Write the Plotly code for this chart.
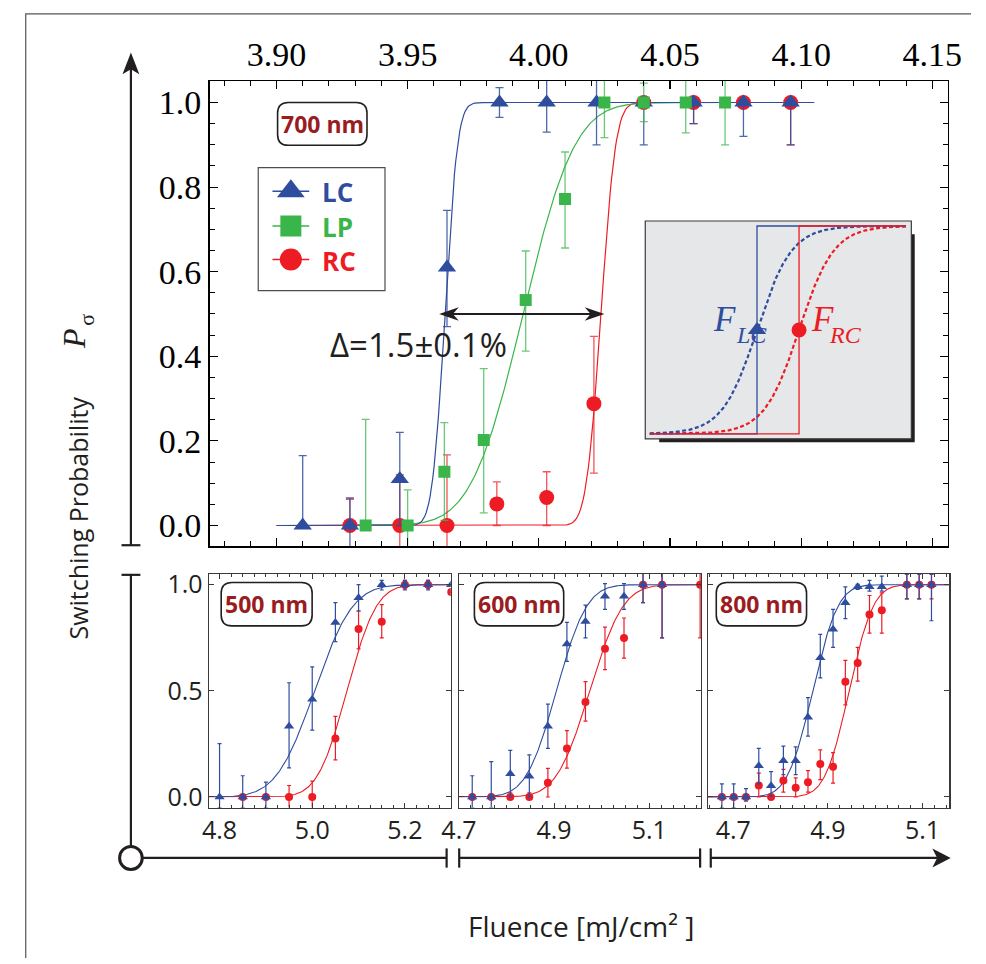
import math
import numpy as np
import plotly.graph_objects as go

W, H = 986, 964


def fx(x):
    """pixel column -> paper fraction"""
    return x / W


def fy(y):
    """pixel row -> paper fraction"""
    return 1 - y / H


BLUE = "#2f4d9e"
GREEN = "#39b54a"
RED = "#ed1c24"
BLUE_BAR = "rgba(47,77,158,0.85)"
GREEN_BAR = "rgba(57,181,74,0.75)"
RED_BAR = "rgba(237,28,36,0.75)"
LABEL_RED = "#9a1c21"
INK = "#231f20"

# ---------------- 700 nm (large panel) ----------------
lc700_x = [3.910, 3.928, 3.947, 3.965, 3.985, 4.003, 4.022, 4.040, 4.059, 4.078, 4.096]
lc700_y = [0.0, 0.0, 0.11, 0.61, 1.0, 1.0, 1.0, 1.0, 1.0, 1.0, 1.0]
lc700_up = [0.165, 0.065, 0.11, 0.135, 0.035, 0.06, 0.06, 0.0, 0.0, 0.0, 0.0]
lc700_dn = [0.0, 0.06, 0.11, 0.14, 0.035, 0.07, 0.10, 0.10, 0.05, 0.08, 0.10]

lp700_x = [3.934, 3.950, 3.964, 3.979, 3.995, 4.010, 4.025, 4.040, 4.056, 4.071]
lp700_y = [0.0, 0.0, 0.127, 0.202, 0.533, 0.772, 1.0, 1.0, 1.0, 1.0]
lp700_up = [0.251, 0.084, 0.116, 0.169, 0.116, 0.111, 0.06, 0.046, 0.06, 0.06]
lp700_dn = [0.0, 0.06, 0.115, 0.172, 0.121, 0.116, 0.083, 0.045, 0.072, 0.10]

rc700_x = [3.928, 3.947, 3.965, 3.984, 4.003, 4.021, 4.040, 4.059, 4.078, 4.096]
rc700_y = [0.0, 0.0, 0.0, 0.051, 0.066, 0.288, 1.0, 1.0, 1.0, 1.0]
rc700_up = [0.062, 0.12, 0.167, 0.052, 0.061, 0.159, 0.0, 0.0, 0.0, 0.0]
rc700_dn = [0.0, 0.06, 0.06, 0.051, 0.066, 0.164, 0.0, 0.05, 0.0, 0.10]

# error-function fits: (centre, width, first x, last x)
fit700_lc = (3.9642, 0.0038, 3.900, 4.105)
fit700_lp = (3.9940, 0.0155, 3.930, 4.075)
fit700_rc = (4.0237, 0.0044, 3.900, 4.096)

# ---------------- 500 nm ----------------
lc500_x = [4.80, 4.85, 4.90, 4.95, 5.00, 5.05, 5.10, 5.15, 5.20, 5.25, 5.30]
lc500_y = [0.0, 0.0, 0.0, 0.333, 0.46, 0.822, 0.938, 1.0, 1.0, 1.0, 1.0]
lc500_up = [0.251, 0.10, 0.07, 0.205, 0.153, 0.093, 0.062, 0.02, 0.02, 0.02, 0.0]
lc500_dn = [0.05, 0.05, 0.05, 0.196, 0.145, 0.09, 0.062, 0.025, 0.025, 0.025, 0.0]

rc500_x = [4.85, 4.90, 4.95, 5.00, 5.05, 5.10, 5.15, 5.20, 5.25, 5.30]
rc500_y = [0.0, 0.0, 0.0, 0.0, 0.276, 0.791, 0.825, 1.0, 1.0, 0.965]
rc500_up = [0.0, 0.0, 0.054, 0.075, 0.104, 0.085, 0.081, 0.02, 0.02, 0.0]
rc500_dn = [0.0, 0.0, 0.06, 0.06, 0.101, 0.093, 0.076, 0.02, 0.02, 0.0]

fit500_lc = (5.005, 0.065, 4.70, 5.40)
fit500_rc = (5.075, 0.050, 4.70, 5.40)

# ---------------- 600 nm ----------------
lc600_x = [4.728, 4.768, 4.808, 4.848, 4.887, 4.927, 4.966, 5.007, 5.047, 5.087, 5.127]
lc600_y = [0.0, 0.0, 0.109, 0.098, 0.333, 0.721, 0.826, 0.946, 0.946, 1.0, 1.0]
lc600_up = [0.10, 0.167, 0.111, 0.10, 0.104, 0.101, 0.078, 0.059, 0.059, 0.07, 0.07]
lc600_dn = [0.05, 0.05, 0.109, 0.098, 0.104, 0.082, 0.077, 0.062, 0.062, 0.085, 0.251]

rc600_x = [4.728, 4.768, 4.808, 4.848, 4.887, 4.927, 4.966, 5.007, 5.047, 5.087, 5.127, 5.207]
rc600_y = [0.0, 0.0, 0.0, 0.0, 0.067, 0.228, 0.447, 0.698, 0.749, 1.0, 1.0, 1.0]
rc600_up = [0.0, 0.0, 0.02, 0.02, 0.068, 0.085, 0.096, 0.102, 0.094, 0.07, 0.07, 0.07]
rc600_dn = [0.0, 0.0, 0.0, 0.0, 0.067, 0.092, 0.09, 0.098, 0.095, 0.085, 0.251, 0.251]

fit600_lc = (4.905, 0.050, 4.60, 5.30)
fit600_rc = (4.975, 0.055, 4.60, 5.30)

# ---------------- 800 nm ----------------
f800_x = [4.676, 4.701, 4.727, 4.754, 4.780, 4.806, 4.832, 4.858, 4.884,
          4.911, 4.937, 4.963, 4.988, 5.014, 5.067, 5.093, 5.119]
lc800_y = [0.0, 0.0, 0.0, 0.147, 0.053, 0.171, 0.171, 0.375, 0.656,
           0.79, 0.915, 0.99, 0.99, 0.99, 1.0, 1.0, 1.0]
lc800_up = [0.062, 0.062, 0.039, 0.082, 0.066, 0.069, 0.065, 0.093, 0.11,
            0.094, 0.075, 0.011, 0.03, 0.05, 0.05, 0.05, 0.05]
lc800_dn = [0.05, 0.05, 0.02, 0.085, 0.05, 0.066, 0.066, 0.088, 0.095,
            0.085, 0.075, 0.012, 0.02, 0.02, 0.067, 0.067, 0.17]
rc800_y = [0.0, 0.0, 0.0, 0.054, 0.0, 0.078, 0.043, 0.07, 0.155,
           0.143, 0.543, 0.631, 0.86, 0.88, 1.0, 1.0, 1.0]
rc800_up = [0.0, 0.0, 0.0, 0.058, 0.0, 0.052, 0.047, 0.054, 0.067,
            0.066, 0.10, 0.074, 0.089, 0.081, 0.05, 0.05, 0.05]
rc800_dn = [0.0, 0.0, 0.0, 0.054, 0.0, 0.055, 0.043, 0.047, 0.073,
            0.078, 0.109, 0.085, 0.088, 0.108, 0.067, 0.067, 0.067]

fit800_lc = (4.868, 0.042, 4.60, 5.20)
fit800_rc = (4.945, 0.040, 4.60, 5.20)

# schematic inset: step thresholds and smeared curves (inset units 0..1)
inset_centres = [0.42, 0.578]
inset_width = 0.065
inset_span = (0.017, 0.98)
inset_floor, inset_top = 0.023, 0.977

wavelength_labels = ["700 nm", "500 nm", "600 nm", "800 nm"]
legend_names = ["LC", "LP", "RC"]
inset_subscripts = ["LC", "RC"]


def erf_fit(params, n=400):
    c, s, x0, x1 = params
    xs = np.linspace(x0, x1, n)
    ys = [0.5 * (1 + math.erf((v - c) / (s * math.sqrt(2)))) for v in xs]
    return xs, ys


def fit_line(params, color, xa, ya, width=1.2):
    xs, ys = erf_fit(params)
    return go.Scatter(x=xs, y=ys, mode="lines", xaxis=xa, yaxis=ya,
                      line=dict(color=color, width=width),
                      showlegend=False, hoverinfo="skip")


def points(x, y, up, dn, color, bar, symbol, size, xa, ya, cap, thick):
    return go.Scatter(x=x, y=y, mode="markers", xaxis=xa, yaxis=ya,
                      marker=dict(symbol=symbol, size=size, color=color,
                                  line=dict(width=0)),
                      error_y=dict(type="data", symmetric=False, array=up,
                                   arrayminus=dn, color=bar, thickness=thick,
                                   width=cap),
                      showlegend=False, hoverinfo="skip")


fig = go.Figure()

# large 700 nm panel
fig.add_trace(fit_line(fit700_rc, RED, "x", "y"))
fig.add_trace(fit_line(fit700_lp, GREEN, "x", "y"))
fig.add_trace(fit_line(fit700_lc, BLUE, "x", "y"))
fig.add_trace(points(rc700_x, rc700_y, rc700_up, rc700_dn, RED, RED_BAR,
                     "circle", 15, "x", "y", 4, 1.3))
fig.add_trace(points(lc700_x, lc700_y, lc700_up, lc700_dn, BLUE, BLUE_BAR,
                     "triangle-up", 16, "x", "y", 4, 1.3))
fig.add_trace(points(lp700_x, lp700_y, lp700_up, lp700_dn, GREEN, GREEN_BAR,
                     "square", 12, "x", "y", 4, 1.3))

# three small panels
small = [
    ("x2", "y2", fit500_lc, fit500_rc, (lc500_x, lc500_y, lc500_up, lc500_dn),
     (rc500_x, rc500_y, rc500_up, rc500_dn)),
    ("x3", "y3", fit600_lc, fit600_rc, (lc600_x, lc600_y, lc600_up, lc600_dn),
     (rc600_x, rc600_y, rc600_up, rc600_dn)),
    ("x4", "y4", fit800_lc, fit800_rc, (f800_x, lc800_y, lc800_up, lc800_dn),
     (f800_x, rc800_y, rc800_up, rc800_dn)),
]
for xa, ya, flc, frc, lc, rc in small:
    fig.add_trace(fit_line(frc, RED, xa, ya, 1.1))
    fig.add_trace(fit_line(flc, BLUE, xa, ya, 1.1))
    fig.add_trace(points(*rc, RED, RED, "circle", 8, xa, ya, 2, 1.2))
    fig.add_trace(points(*lc, BLUE, BLUE, "triangle-up", 9, xa, ya, 2, 1.2))

# schematic inset
xs_in = np.linspace(inset_span[0], inset_span[1], 300)
for c, col in zip(inset_centres[::-1], [RED, BLUE]):
    ys_in = [inset_floor + (inset_top - inset_floor) / (1 + math.exp(-(v - c) / inset_width))
             for v in xs_in]
    fig.add_trace(go.Scatter(x=xs_in, y=ys_in, mode="lines", xaxis="x5", yaxis="y5",
                             line=dict(color=col, width=2.2, dash="4px,2.5px"),
                             showlegend=False, hoverinfo="skip"))
for c, col in zip(inset_centres, [BLUE, RED]):
    fig.add_trace(go.Scatter(
        x=[inset_span[0], c, c, inset_span[1]],
        y=[inset_floor, inset_floor, inset_top, inset_top],
        mode="lines", xaxis="x5", yaxis="y5", line=dict(color=col, width=1.3),
        showlegend=False, hoverinfo="skip"))
fig.add_trace(go.Scatter(x=[inset_centres[0]], y=[0.5], mode="markers", xaxis="x5", yaxis="y5",
                         marker=dict(symbol="triangle-up", size=16, color=BLUE),
                         showlegend=False, hoverinfo="skip"))
fig.add_trace(go.Scatter(x=[inset_centres[1]], y=[0.5], mode="markers", xaxis="x5", yaxis="y5",
                         marker=dict(symbol="circle", size=15, color=RED),
                         showlegend=False, hoverinfo="skip"))

# legend glyphs, drawn on an axis that spans the legend box in pixel units
LEG_BOX = (248.3, 162.7, 379.3, 287.3)
legend_rows = [186.7, 221.7, 255.7]
legend_style = [(BLUE, "triangle-up", 24), (GREEN, "square", 21), (RED, "circle", 22)]
for yrow, (col, sym, sz) in zip(legend_rows, legend_style):
    fig.add_trace(go.Scatter(x=[263, 301], y=[yrow, yrow], mode="lines", xaxis="x6", yaxis="y6",
                             line=dict(color=col, width=1.5), showlegend=False, hoverinfo="skip"))
    fig.add_trace(go.Scatter(x=[282], y=[yrow], mode="markers", xaxis="x6", yaxis="y6",
                             marker=dict(symbol=sym, size=sz, color=col),
                             showlegend=False, hoverinfo="skip"))

SERIF = "Liberation Serif"
SANS = "Open Sans"

main_ax = dict(showgrid=False, zeroline=False, showline=True, mirror="allticks",
               ticks="inside", linecolor="black", linewidth=1.4, tickcolor="black",
               tickwidth=1.2, ticklen=8, tickfont=dict(family=SERIF, size=34, color="black"))

small_ax = dict(showgrid=False, zeroline=False, showline=True, mirror="allticks",
                ticks="inside", linecolor="#3a3a3a", linewidth=1.3, tickcolor="#3a3a3a",
                tickwidth=1, ticklen=5, tickfont=dict(family=SANS, size=25, color=INK))

layout = dict(
    width=W, height=H, autosize=False, margin=dict(l=0, r=0, t=0, b=0),
    paper_bgcolor="white", plot_bgcolor="rgba(0,0,0,0)", showlegend=False,
    xaxis=dict(main_ax, domain=[fx(198), fx(961)], range=[3.8745, 4.1559], anchor="y",
               side="top", tick0=3.9, dtick=0.05, tickformat=".2f",
               minor=dict(ticks="inside", tick0=3.9, dtick=0.01, ticklen=5,
                          tickcolor="black", tickwidth=1)),
    yaxis=dict(main_ax, domain=[fy(546), fy(75)], range=[-0.049, 1.0507], anchor="x",
               tick0=0, dtick=0.2, tickformat=".1f",
               minor=dict(ticks="inside", tick0=0, dtick=0.05, ticklen=5,
                          tickcolor="black", tickwidth=1)),
)

panel_geom = [
    ("xaxis2", "yaxis2", "y2", "x2", 197.3, 447.3, [4.777, 5.299], [4.8, 5.0, 5.2], True),
    ("xaxis3", "yaxis3", "y3", "x3", 455.7, 706.0, [4.700, 5.209], [4.7, 4.9, 5.1], False),
    ("xaxis4", "yaxis4", "y4", "x4", 713.3, 962.7, [4.647, 5.157], [4.7, 4.9, 5.1], False),
]
for xk, yk, yanchor, xanchor, x0, x1, rng, tv, show_y in panel_geom:
    layout[xk] = dict(small_ax, domain=[fx(x0), fx(x1)], range=rng, anchor=yanchor,
                      tickmode="array", tickvals=tv, ticktext=[f"{v:.1f}" for v in tv],
                      minor=dict(ticks="inside", tickmode="linear", tick0=4.7, dtick=0.025,
                                 ticklen=3, tickcolor="#3a3a3a", tickwidth=1))
    layout[yk] = dict(small_ax, domain=[fy(810.7), fy(574)], range=[-0.05, 1.051],
                      anchor=xanchor, tickmode="array", tickvals=[0, 0.5, 1.0],
                      ticktext=["0.0", "0.5", "1.0"], showticklabels=show_y)

layout["xaxis5"] = dict(domain=[fx(648.3), fx(923.3)], range=[0, 1], anchor="y5", visible=False)
layout["yaxis5"] = dict(domain=[fy(437.3), fy(216.7)], range=[0, 1], anchor="x5", visible=False)
layout["xaxis6"] = dict(domain=[fx(LEG_BOX[0]), fx(LEG_BOX[2])], range=[LEG_BOX[0], LEG_BOX[2]],
                        anchor="y6", visible=False)
layout["yaxis6"] = dict(domain=[fy(LEG_BOX[3]), fy(LEG_BOX[1])], range=[LEG_BOX[3], LEG_BOX[1]],
                        anchor="x6", visible=False)

fig.update_layout(**layout)

shapes = []


def line(x0, y0, x1, y1, color=INK, width=2.2, layer="above"):
    shapes.append(dict(type="line", xref="paper", yref="paper", x0=fx(x0), y0=fy(y0),
                       x1=fx(x1), y1=fy(y1), line=dict(color=color, width=width), layer=layer))


def poly(pts, fill=INK):
    d = "M " + " L ".join(f"{fx(a):.5f},{fy(b):.5f}" for a, b in pts) + " Z"
    shapes.append(dict(type="path", xref="paper", yref="paper", path=d,
                       fillcolor=fill, line=dict(width=0), layer="above"))


def rounded_box(x0, y0, x1, y1, r=11):
    X, Y = fx, fy
    d = (f"M {X(x0 + r)},{Y(y0)} L {X(x1 - r)},{Y(y0)} Q {X(x1)},{Y(y0)} {X(x1)},{Y(y0 + r)} "
         f"L {X(x1)},{Y(y1 - r)} Q {X(x1)},{Y(y1)} {X(x1 - r)},{Y(y1)} L {X(x0 + r)},{Y(y1)} "
         f"Q {X(x0)},{Y(y1)} {X(x0)},{Y(y1 - r)} L {X(x0)},{Y(y0 + r)} "
         f"Q {X(x0)},{Y(y0)} {X(x0 + r)},{Y(y0)} Z")
    shapes.append(dict(type="path", xref="paper", yref="paper", path=d,
                       fillcolor="white", line=dict(color=INK, width=1.6), layer="above"))


# outer frame (left and top edges)
shapes.append(dict(type="path", xref="paper", yref="paper",
                   path=f"M {fx(8)},{fy(963)} L {fx(8)},{fy(7)} L {fx(985)},{fy(7)}",
                   line=dict(color="#555555", width=1.2), layer="below"))

# vertical probability axis with break
line(116.7, 62, 116.7, 545)
line(107, 545, 126.5, 545)
line(107, 575, 126.5, 575)
line(116.7, 575, 116.7, 850)
poly([(116.7, 46), (108, 68), (116.7, 63), (125.4, 68)])

# horizontal fluence axis with breaks
line(129, 861.7, 443, 861.7)
line(443, 852, 443, 871.5)
line(456, 852, 456, 871.5)
line(456, 861.7, 705, 861.7)
line(705, 852, 705, 871.5)
line(716, 852, 716, 871.5)
line(716, 861.7, 950, 861.7)
poly([(964, 861.7), (945, 852), (950, 861.7), (945, 871.4)])
shapes.append(dict(type="circle", xref="paper", yref="paper", x0=fx(105), y0=fy(873.4),
                   x1=fx(128.4), y1=fy(850), fillcolor="white",
                   line=dict(color=INK, width=3), layer="above"))

# legend frame
shapes.append(dict(type="rect", xref="paper", yref="paper", x0=fx(LEG_BOX[0]), y0=fy(LEG_BOX[3]),
                   x1=fx(LEG_BOX[2]), y1=fy(LEG_BOX[1]), fillcolor="white",
                   line=dict(color="#4d4d4d", width=1.2), layer="below"))

# inset frame with drop shadow
shapes.append(dict(type="rect", xref="paper", yref="paper", x0=fx(662.7), y0=fy(440.8),
                   x1=fx(926.8), y1=fy(230), fillcolor="#231f20",
                   line=dict(width=0), layer="below"))
shapes.append(dict(type="rect", xref="paper", yref="paper", x0=fx(648.3), y0=fy(437.3),
                   x1=fx(923.3), y1=fy(216.7), fillcolor="#e6e7e8",
                   line=dict(color="#3a3a3a", width=1.2), layer="below"))

# double-headed arrow between the LC and RC thresholds (data coordinates)
arr_x0 = fit700_lc[0] - 0.0022
arr_x1 = fit700_rc[0] + 0.0013
head_len, head_half = 0.0075, 0.016
shapes.append(dict(type="line", xref="x", yref="y", x0=arr_x0 + 0.004, y0=0.5,
                   x1=arr_x1 - 0.004, y1=0.5, line=dict(color=INK, width=2)))
for tip, sgn in [(arr_x0, 1), (arr_x1, -1)]:
    back = tip + sgn * head_len
    notch = tip + sgn * head_len * 0.7
    shapes.append(dict(type="path", xref="x", yref="y",
                       path=(f"M {tip},0.5 L {back},{0.5 + head_half} L {notch},0.5 "
                             f"L {back},{0.5 - head_half} Z"),
                       fillcolor=INK, line=dict(width=0)))

# wavelength tags
tag_boxes = [(268.3, 96.7, 360.7, 140), (210, 582.7, 304, 626.7),
             (471.7, 582.7, 564, 626.7), (721.7, 582.7, 815, 626.7)]
for b in tag_boxes:
    rounded_box(*b)

fig.update_layout(shapes=shapes)

annotations = []
for (x0, y0, x1, y1), txt in zip(tag_boxes, wavelength_labels):
    annotations.append(dict(xref="paper", yref="paper", x=fx((x0 + x1) / 2),
                            y=fy((y0 + y1) / 2), text=f"<b>{txt}</b>", showarrow=False,
                            font=dict(family=SANS, size=23, color=LABEL_RED),
                            xanchor="center", yanchor="middle"))

for yrow, name, (col, _, _) in zip(legend_rows, legend_names, legend_style):
    annotations.append(dict(xref="paper", yref="paper", x=fx(312), y=fy(yrow + 1),
                            text=f"<b>{name}</b>", showarrow=False, xanchor="left",
                            yanchor="middle", font=dict(family=SANS, size=26, color=col)))

annotations.append(dict(xref="paper", yref="paper", x=fx(414), y=fy(342),
                        text="Δ=1.5±0.1%", showarrow=False, xanchor="center",
                        yanchor="middle", font=dict(family=SANS, size=33, color=INK)))

# inset labels: italic F followed by a lowered italic subscript
inset_labels = [(744, "right", 740, BLUE), (818, "left", 836, RED)]
for (f_x, f_anchor, s_x, col), sub in zip(inset_labels, inset_subscripts):
    annotations.append(dict(xref="paper", yref="paper", x=fx(f_x), y=fy(316),
                            text="<i>F</i>", showarrow=False, xanchor=f_anchor,
                            yanchor="middle", font=dict(family=SERIF, size=35, color=col)))
    annotations.append(dict(xref="paper", yref="paper", x=fx(s_x), y=fy(332),
                            text=f"<i>{sub}</i>", showarrow=False, xanchor="left",
                            yanchor="middle", font=dict(family=SERIF, size=24, color=col)))

# axis titles
annotations.append(dict(xref="paper", yref="paper", x=fx(62), y=fy(517),
                        text="Switching Probability", showarrow=False, textangle=-90,
                        xanchor="center", yanchor="middle",
                        font=dict(family=SANS, size=25, color=INK)))
annotations.append(dict(xref="paper", yref="paper", x=fx(58), y=fy(336),
                        text="<i>P</i>", showarrow=False, textangle=-90,
                        xanchor="center", yanchor="middle",
                        font=dict(family=SERIF, size=32, color=INK)))
annotations.append(dict(xref="paper", yref="paper", x=fx(70), y=fy(317),
                        text="σ", showarrow=False, textangle=-90,
                        xanchor="center", yanchor="middle",
                        font=dict(family=SERIF, size=22, color=INK)))
annotations.append(dict(xref="paper", yref="paper", x=fx(582), y=fy(931),
                        text="Fluence [mJ/cm² ]", showarrow=False,
                        xanchor="center", yanchor="middle",
                        font=dict(family=SANS, size=28, color=INK)))

fig.update_layout(annotations=annotations)

fig.write_html("out.html", config={"staticPlot": True})
